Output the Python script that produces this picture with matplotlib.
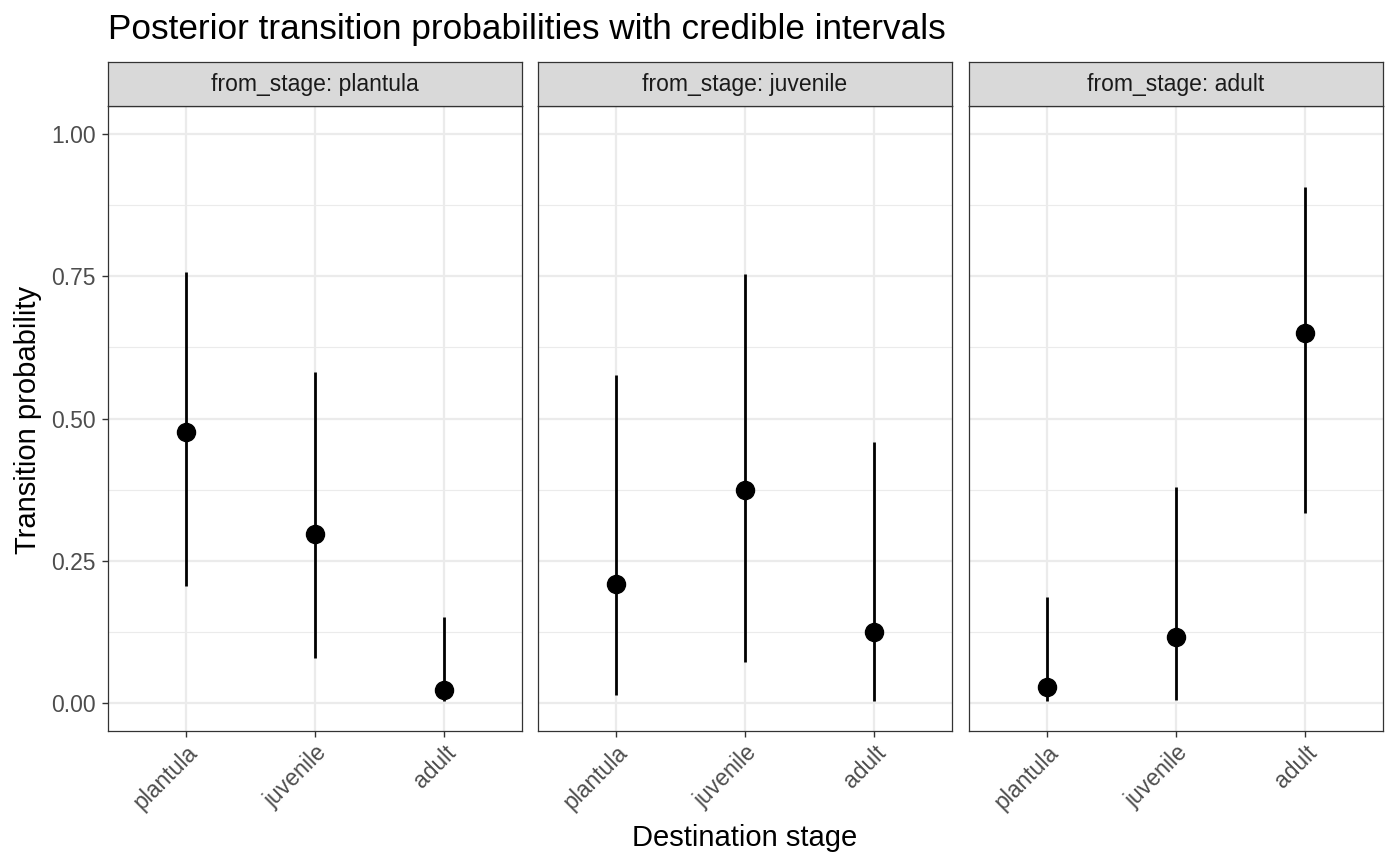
import numpy as np
import matplotlib
matplotlib.use('Agg')
import matplotlib.pyplot as plt

matplotlib.rc('font', family=['Liberation Sans', 'DejaVu Sans'])

stages = ["plantula", "juvenile", "adult"]
from_stages = ["plantula", "juvenile", "adult"]

# posterior mean / lower / upper, one row per from_stage, columns = destination
post_mean = [[0.477, 0.296, 0.023],
             [0.208, 0.375, 0.125],
             [0.028, 0.116, 0.650]]
post_lower = [[0.206, 0.079, 0.002],
              [0.014, 0.072, 0.002],
              [0.002, 0.005, 0.333]]
post_upper = [[0.757, 0.581, 0.151],
              [0.577, 0.755, 0.458],
              [0.185, 0.379, 0.907]]

W, H = 1400, 866
fig = plt.figure(figsize=(W / 100, H / 100), dpi=100)

lefts = [108, 538, 969]
pw = 414
top, bottom = 106, 731
strip_h = 44
grid_col = '#EBEBEB'
edge_col = '#333333'
small = 16.5

x = np.arange(1, len(stages) + 1)
for i, fs in enumerate(from_stages):
    ax = fig.add_axes([lefts[i] / W, 1 - bottom / H, pw / W, (bottom - top) / H])
    ax.set_xlim(0.4, 3.6)
    ax.set_ylim(-0.05, 1.05)
    for yv in [0.125, 0.375, 0.625, 0.875]:
        ax.axhline(yv, color=grid_col, lw=0.8, zorder=0)
    for yv in [0, 0.25, 0.5, 0.75, 1.0]:
        ax.axhline(yv, color=grid_col, lw=1.6, zorder=0)
    for xv in x:
        ax.axvline(xv, color=grid_col, lw=1.6, zorder=0)
    m = np.array(post_mean[i])
    lo = np.array(post_lower[i])
    hi = np.array(post_upper[i])
    ax.vlines(x, lo, hi, color='black', lw=2.0, zorder=2)
    ax.plot(x, m, 'o', color='black', ms=13, zorder=3)
    ax.set_xticks(x)
    ax.set_xticklabels(stages, rotation=45, ha='right', va='top',
                       rotation_mode='anchor', fontsize=small, color='#4D4D4D')
    ax.set_yticks([0, 0.25, 0.5, 0.75, 1.0])
    ax.tick_params(axis='both', color=edge_col, width=1.0, length=4.5, pad=3)
    if i == 0:
        ax.set_yticklabels(['0.00', '0.25', '0.50', '0.75', '1.00'],
                           fontsize=small, color='#4D4D4D')
        ax.tick_params(axis='y', pad=4.5)
    else:
        ax.set_yticklabels([])
        ax.tick_params(axis='y', length=0)
    for sp in ax.spines.values():
        sp.set_color(edge_col)
        sp.set_linewidth(0.9)
    # facet strip
    sax = fig.add_axes([lefts[i] / W, 1 - top / H, pw / W, strip_h / H])
    sax.set_xticks([])
    sax.set_yticks([])
    sax.set_facecolor('#D9D9D9')
    for sp in sax.spines.values():
        sp.set_color(edge_col)
        sp.set_linewidth(0.9)
    sax.text(0.5, 0.5, "from_stage: " + fs, ha='center', va='center',
             fontsize=small, color='#1A1A1A', transform=sax.transAxes)

fig.text(108 / W, 1 - 30 / H, "Posterior transition probabilities with credible intervals",
         fontsize=25.3, ha='left', va='center')
fig.text(745 / W, 1 - 838 / H, "Destination stage", fontsize=21, ha='center', va='center')
fig.text(28 / W, 1 - 420 / H, "Transition probability", fontsize=21, ha='center',
         va='center', rotation=90)

plt.savefig("out.png", dpi=100)
